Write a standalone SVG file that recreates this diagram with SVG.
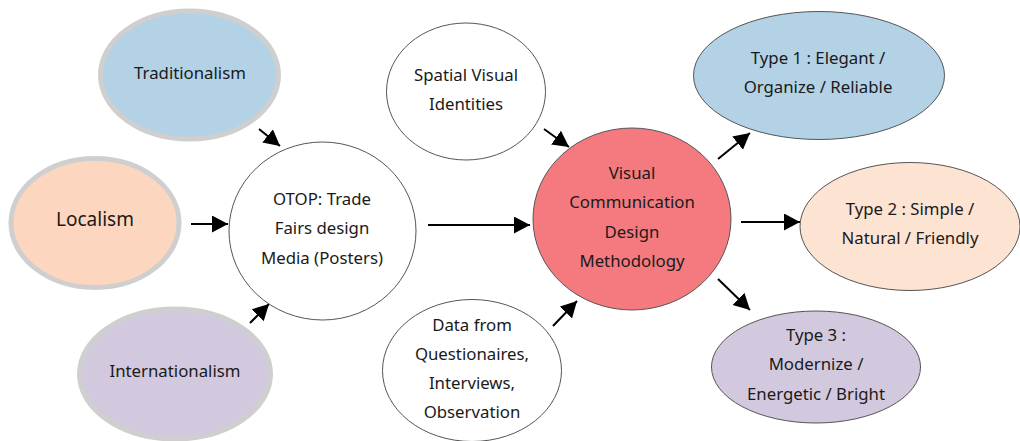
<svg xmlns="http://www.w3.org/2000/svg" width="1020" height="441" viewBox="0 0 1020 441">
<style>
text{font-family:"Noto Sans","Liberation Sans",sans-serif;font-size:16.800px;fill:#1a1a1a;text-anchor:middle}
.g{stroke:#cfcfcf;stroke-width:5}
.t{stroke:#555;stroke-width:1}
.c{stroke:#000;stroke-width:2;fill:none;marker-end:url(#a)}
</style>
<defs><marker id="a" markerUnits="userSpaceOnUse" markerWidth="17" markerHeight="18" refX="16" refY="8.500" orient="auto"><path d="M0 0L16 8.500L0 17Z" fill="#000"/></marker></defs>
<rect width="1020" height="441" fill="#fff"/>
<g id="connectors">
<path class="c" d="M259 129L280 146"/>
<path class="c" d="M191 224L228 224"/>
<path class="c" d="M250 323L269 304"/>
<path class="c" d="M428 225L530 225"/>
<path class="c" d="M544 129L569 147"/>
<path class="c" d="M553 326L577 301"/>
<path class="c" d="M718 159L750 133"/>
<path class="c" d="M741 222L800 222"/>
<path class="c" d="M718 279L750 310"/>
</g>
<g id="traditionalism"><ellipse class="g" cx="189.500" cy="75" rx="89" ry="64" fill="#b3d2e6"/><text x="190" y="79">Traditionalism</text></g>
<g id="localism"><ellipse class="g" cx="95" cy="223" rx="84" ry="64.500" fill="#fdd6bf"/><text x="95" y="226" style="font-size:19px">Localism</text></g>
<g id="internationalism"><ellipse class="g" cx="175" cy="374" rx="95.500" ry="65" fill="#d3c9de"/><text x="175" y="377">Internationalism</text></g>
<g id="otop"><ellipse class="t" cx="322.500" cy="231" rx="93.500" ry="89" fill="#fff"/><text x="322" y="205">OTOP: Trade</text><text x="322" y="234">Fairs design</text><text x="322" y="264">Media (Posters)</text></g>
<g id="spatial"><ellipse class="t" cx="466" cy="91.500" rx="79.500" ry="68.500" fill="#fff"/><text x="466" y="81">Spatial Visual</text><text x="466" y="110">Identities</text></g>
<g id="data"><ellipse class="t" cx="472" cy="370.500" rx="89.500" ry="71" fill="#fff"/><text x="472" y="331">Data from</text><text x="472" y="360">Questionaires,</text><text x="472" y="389">Interviews,</text><text x="472" y="418">Observation</text></g>
<g id="visual"><ellipse class="t" cx="632" cy="219" rx="99" ry="91" fill="#f47a80"/><text x="632" y="179">Visual</text><text x="632" y="208">Communication</text><text x="632" y="238">Design</text><text x="632" y="267">Methodology</text></g>
<g id="type1"><ellipse class="t" cx="819" cy="75.500" rx="125.500" ry="64" fill="#b3d2e6"/><text x="818" y="64">Type 1 : Elegant /</text><text x="818" y="93">Organize / Reliable</text></g>
<g id="type2"><ellipse class="t" cx="910" cy="226.500" rx="110" ry="64" fill="#fde3d2"/><text x="910" y="215">Type 2 : Simple /</text><text x="910" y="244">Natural / Friendly</text></g>
<g id="type3"><ellipse class="t" cx="816" cy="367" rx="104.500" ry="56" fill="#d3c9de"/><text x="816" y="341">Type 3 :</text><text x="816" y="370">Modernize /</text><text x="816" y="400">Energetic / Bright</text></g>
</svg>
